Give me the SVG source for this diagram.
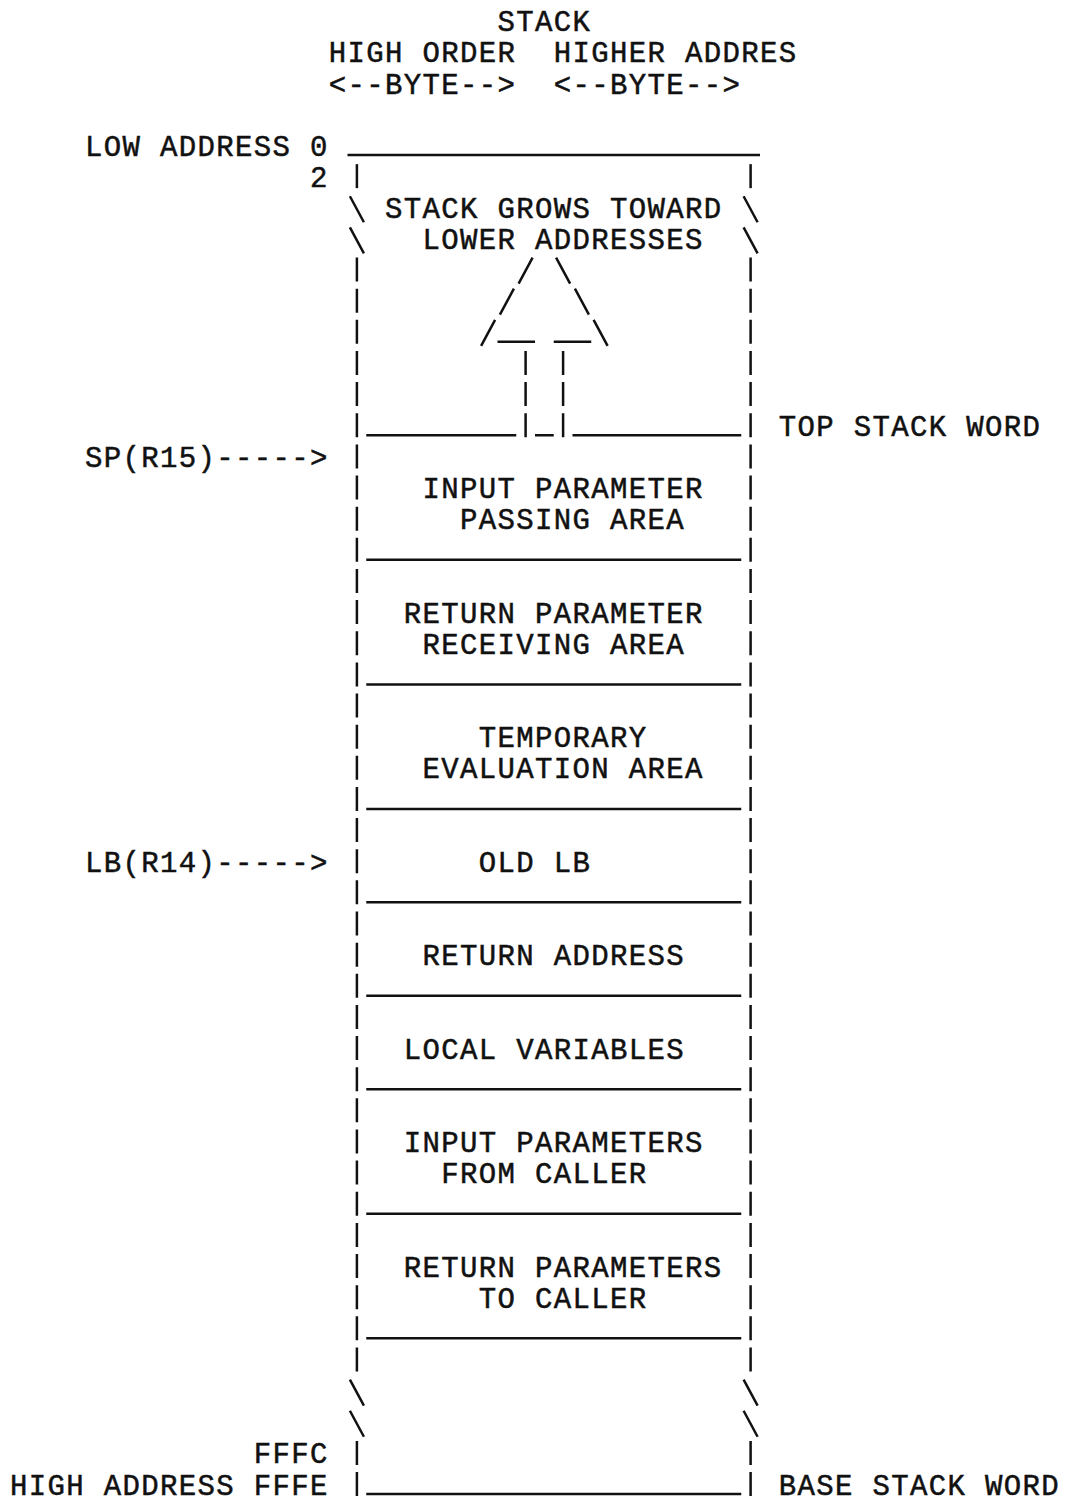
<svg xmlns="http://www.w3.org/2000/svg" width="1065" height="1501" viewBox="0 0 1065 1501">
<style>
text{font-family:"Liberation Mono","DejaVu Sans Mono",monospace;font-size:29px;letter-spacing:1.35px;fill:#111;stroke:#111;stroke-width:0.5}
.ln{stroke:#111;stroke-width:2.5;fill:none}
.bar{stroke:#111;stroke-width:2.5;fill:none;stroke-dasharray:24 7.14}
</style>
<rect width="1065" height="1501" fill="#fff"/>
<g id="header">
<text x="497.5" y="30.5">STACK</text>
<text x="328.75" y="62">HIGH ORDER</text>
<text x="553.75" y="62">HIGHER ADDRES</text>
<text x="328.75" y="93.5">&lt;--BYTE--&gt;</text>
<text x="553.75" y="93.5">&lt;--BYTE--&gt;</text>
</g>
<g id="address-labels">
<text x="85" y="155.5">LOW ADDRESS 0</text>
<text x="310" y="186.6">2</text>
<text x="253.75" y="1463.3">FFFC</text>
<text x="10" y="1494.5">HIGH ADDRESS FFFE</text>
<text x="778.75" y="435.7">TOP STACK WORD</text>
<text x="778.75" y="1494.5">BASE STACK WORD</text>
</g>
<g id="pointers">
<text x="85" y="466.9">SP(R15)-----&gt;</text>
<text x="85" y="871.7">LB(R14)-----&gt;</text>
</g>
<g id="frame">
<line class="ln" x1="347.5" y1="155" x2="760" y2="155"/>
<line class="bar" x1="356.9" y1="164.14" x2="356.9" y2="188.14"/>
<line class="bar" x1="750.6" y1="164.14" x2="750.6" y2="188.14"/>
<line class="bar" x1="356.9" y1="257.56" x2="356.9" y2="1371.46"/>
<line class="bar" x1="750.6" y1="257.56" x2="750.6" y2="1371.46"/>
<line class="bar" x1="356.9" y1="1440.88" x2="356.9" y2="1496.02"/>
<line class="bar" x1="750.6" y1="1440.88" x2="750.6" y2="1496.02"/>
<path class="ln" d="M349.9 196.28L363.9 222.28M743.6 196.28L757.6 222.28M349.9 227.42L363.9 253.42M743.6 227.42L757.6 253.42M349.9 1379.6L363.9 1405.6M743.6 1379.6L757.6 1405.6M349.9 1410.74L363.9 1436.74M743.6 1410.74L757.6 1436.74"/>
<line class="ln" x1="366.25" y1="1494.02" x2="741.25" y2="1494.02"/>
</g>
<g id="growth-area">
<text x="385" y="217.8">STACK GROWS TOWARD</text>
<text x="422.5" y="248.9">LOWER ADDRESSES</text>
<path class="ln" d="M532.6 257.56L518.6 283.56M556.1 257.56L570.1 283.56M513.9 288.7L499.9 314.7M574.9 288.7L588.9 314.7M495.1 319.84L481.1 345.84M593.6 319.84L607.6 345.84M497.5 341.84H535M553.75 341.84H591.25"/>
<line class="bar" x1="525.6" y1="350.98" x2="525.6" y2="437.26"/>
<line class="bar" x1="563.1" y1="350.98" x2="563.1" y2="437.26"/>
<path class="ln" d="M366.25 435.26H516.25M535 435.26H553.75M572.5 435.26H741.25"/>
</g>
<g id="input-parameter-passing-area">
<text x="422.5" y="498">INPUT PARAMETER</text>
<text x="460" y="529.2">PASSING AREA</text>
<line class="ln" x1="366.25" y1="559.82" x2="741.25" y2="559.82"/>
</g>
<g id="return-parameter-receiving-area">
<text x="403.75" y="622.6">RETURN PARAMETER</text>
<text x="422.5" y="653.7">RECEIVING AREA</text>
<line class="ln" x1="366.25" y1="684.38" x2="741.25" y2="684.38"/>
</g>
<g id="temporary-evaluation-area">
<text x="478.75" y="747.1">TEMPORARY</text>
<text x="422.5" y="778.3">EVALUATION AREA</text>
<line class="ln" x1="366.25" y1="808.94" x2="741.25" y2="808.94"/>
</g>
<g id="old-lb">
<text x="478.75" y="871.7">OLD LB</text>
<line class="ln" x1="366.25" y1="902.36" x2="741.25" y2="902.36"/>
</g>
<g id="return-address">
<text x="422.5" y="965.1">RETURN ADDRESS</text>
<line class="ln" x1="366.25" y1="995.78" x2="741.25" y2="995.78"/>
</g>
<g id="local-variables">
<text x="403.75" y="1058.5">LOCAL VARIABLES</text>
<line class="ln" x1="366.25" y1="1089.2" x2="741.25" y2="1089.2"/>
</g>
<g id="input-parameters-from-caller">
<text x="403.75" y="1152">INPUT PARAMETERS</text>
<text x="441.25" y="1183.1">FROM CALLER</text>
<line class="ln" x1="366.25" y1="1213.76" x2="741.25" y2="1213.76"/>
</g>
<g id="return-parameters-to-caller">
<text x="403.75" y="1276.5">RETURN PARAMETERS</text>
<text x="478.75" y="1307.7">TO CALLER</text>
<line class="ln" x1="366.25" y1="1338.32" x2="741.25" y2="1338.32"/>
</g>
</svg>
